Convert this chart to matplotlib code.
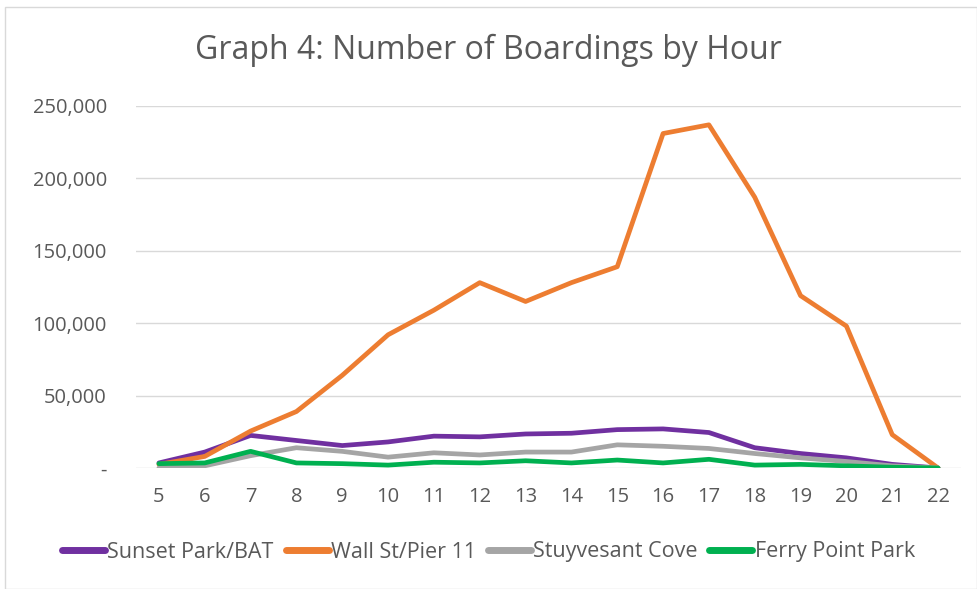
import matplotlib
matplotlib.use('Agg')
import matplotlib.pyplot as plt
from matplotlib import ticker
from matplotlib.patches import Rectangle

plt.rcParams['font.family'] = ['Open Sans', 'DejaVu Sans']

hours = list(range(5, 23))
sunset = [3500, 11000, 22500, 19000, 15500, 18000, 22000, 21500, 23500, 24000,
          26500, 27000, 24500, 14000, 10000, 7000, 2500, 0]
wall = [2500, 8000, 25500, 39000, 64000, 92000, 109000, 128000, 115000, 128000,
        139000, 231000, 237000, 187000, 119000, 98000, 23000, 0]
stuy = [0, 1500, 8500, 14000, 11500, 7500, 10500, 9000, 11000, 11000,
        16000, 15000, 13500, 10000, 7000, 4500, 1500, 0]
ferry = [3000, 3500, 11500, 3500, 3000, 2000, 4000, 3500, 5000, 3500,
         5500, 3500, 6000, 2000, 2500, 1500, 500, 0]

names = ['Sunset Park/BAT', 'Wall St/Pier 11', 'Stuyvesant Cove', 'Ferry Point Park']
colors = ['#7030A0', '#ED7D31', '#A5A5A5', '#00B050']
series = [sunset, wall, stuy, ferry]

fig = plt.figure(figsize=(9.77, 5.89), dpi=100)
fig.patches.append(Rectangle((5/977, 0.5/589), 1 - 5.5/977, 1 - 7.5/589, transform=fig.transFigure,
                             fill=False, edgecolor='#D9D9D9', linewidth=1))
ax = fig.add_axes([136/977, 1 - 468/589, 825/977, 362/589])

for ys, nm, c in zip(series, names, colors):
    ax.plot(hours, ys, color=c, linewidth=3.4, label=nm, solid_capstyle='round', solid_joinstyle='round')

ax.set_xlim(4.5, 22.5)
ax.set_ylim(0, 250000)
ax.set_xticks(hours)
ax.set_yticks(range(0, 250001, 50000))
ax.yaxis.set_major_formatter(ticker.FuncFormatter(lambda v, p: '-' if v == 0 else f'{int(v):,}'))
ax.grid(axis='y', color='#D9D9D9', linewidth=1)
ax.set_axisbelow(True)
for s in ['top', 'right', 'left', 'bottom']:
    ax.spines[s].set_visible(False)
ax.tick_params(length=0, labelsize=14.5, colors='#595959')
ax.tick_params(axis='x', pad=14)
ax.tick_params(axis='y', pad=21)

fig.text(0.5, 1 - 50/589, 'Graph 4: Number of Boardings by Hour', ha='center', va='center',
         fontsize=23, color='#595959')

fig.legend(loc='center', bbox_to_anchor=(0.5, 1 - 552/589), ncol=4, frameon=False,
           fontsize=15.5, handlelength=2.0, handletextpad=0.1, columnspacing=0.55,
           labelcolor='#595959')
for ln in fig.legends[0].get_lines():
    ln.set_linewidth(5)

fig.savefig('out.png', dpi=100)
